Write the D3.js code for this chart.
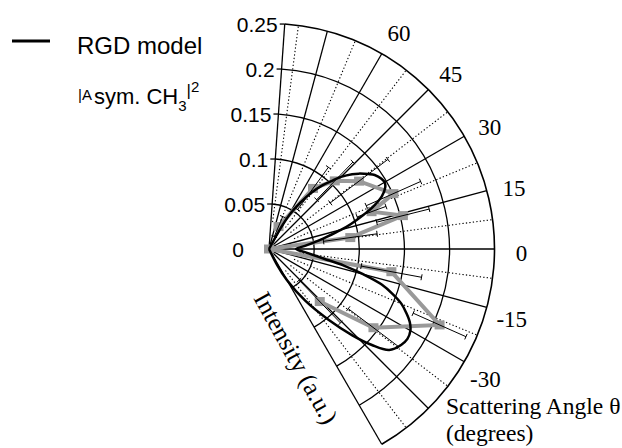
<!DOCTYPE html>
<html><head><meta charset="utf-8">
<script src="https://cdn.jsdelivr.net/npm/d3@7"></script>
<style>body{margin:0;background:#fff} svg{display:block}</style>
</head><body>
<svg id="chart" width="622" height="448"></svg>
<script>
// ---------- data ----------
const radialTicks = [0, 0.05, 0.1, 0.15, 0.2, 0.25];
const radialTickLabels = ["0", "0.05", "0.1", "0.15", "0.2", "0.25"];
const angleTicks = [60, 45, 30, 15, 0, -15, -30];
const angleTickLabels = ["60", "45", "30", "15", "0", "-15", "-30"];
const solidSpokes = [-45, -30, -15, 0, 15, 30, 45, 60, 75];
const dottedSpokes = [-52.5, -37.5, -22.5, -7.5, 7.5, 22.5, 37.5, 52.5, 67.5, 82.5];
const angleRange = [-60, 86];

// RGD model (degrees, intensity)
const modelAngles = [63, 61, 59, 56, 53, 50, 47, 45, 42, 40, 37, 35, 32, 30, 28, 25, 22, 20, 17, 15, 12, 10, 5, 0,
  -5, -10, -12.5, -15, -17.5, -20, -22.5, -25, -27.5, -30, -33, -36, -40, -43, -46, -50, -55, -60, -63, -65];
const modelValues = [0, 0.025, 0.045, 0.062, 0.078, 0.092, 0.104, 0.113, 0.124, 0.130, 0.138, 0.143, 0.147, 0.148, 0.146, 0.138, 0.124, 0.112, 0.095, 0.083, 0.066, 0.057, 0.040, 0.030,
  0.040, 0.062, 0.085, 0.108, 0.131, 0.146, 0.159, 0.168, 0.176, 0.181, 0.183, 0.181, 0.174, 0.156, 0.133, 0.102, 0.070, 0.040, 0.020, 0];

// |A sym. CH3|^2 measured
const dataAngles = [67, 54, 46, 37, 24, 20, 14, 8, 0, -10.5, -24, -37, -46];
const dataValues = [0.027, 0.083, 0.105, 0.125, 0.151, 0.121, 0.153, 0.091, 0, 0.138, 0.207, 0.145, 0.081];
const dataErrors = [0.012, 0.029, 0.029, 0.040, 0.033, 0.017, 0.030, 0.030, 0, 0.034, 0.032, 0.035, 0.033];

// ---------- drawing ----------
const svg = d3.select("#chart");
const cx = 269, cy = 249, R = 225.5;
const rScale = d3.scaleLinear().domain([0, 0.25]).range([0, R]);
const rad = d => d * Math.PI / 180;
const px = (deg, v) => cx + rScale(v) * Math.cos(rad(deg));
const py = (deg, v) => cy - rScale(v) * Math.sin(rad(deg));
const sans = "'Liberation Sans', Arial, Helvetica, sans-serif";
const serif = "'Liberation Serif', 'Times New Roman', Times, serif";

const g = svg.append("g");

// circles (arcs)
radialTicks.slice(1).forEach(v => {
  const p = d3.path();
  p.arc(cx, cy, rScale(v), rad(-angleRange[1]), rad(-angleRange[0]), false);
  g.append("path").attr("d", p.toString()).attr("fill", "none")
    .attr("stroke", "#000").attr("stroke-width", v === 0.25 ? 1.6 : 1.3);
});

// solid spokes + edges
solidSpokes.concat(angleRange).forEach(a => {
  g.append("line").attr("x1", cx).attr("y1", cy)
    .attr("x2", px(a, 0.25)).attr("y2", py(a, 0.25))
    .attr("stroke", "#000").attr("stroke-width", 1.3);
});
// dotted spokes
dottedSpokes.forEach(a => {
  g.append("line").attr("x1", px(a, 0.03)).attr("y1", py(a, 0.03))
    .attr("x2", px(a, 0.25)).attr("y2", py(a, 0.25))
    .attr("stroke", "#000").attr("stroke-width", 1.1).attr("stroke-dasharray", "1.3,2.2");
});

// radial axis ticks and labels
radialTicks.forEach((v, i) => {
  const x = px(angleRange[1], v), y = py(angleRange[1], v);
  if (v > 0) g.append("line").attr("x1", x - 5).attr("y1", y).attr("x2", x).attr("y2", y)
    .attr("stroke", "#000").attr("stroke-width", 1.3);
  g.append("text").attr("x", v === 0 ? x - 25 : x - 7).attr("y", y)
    .attr("dy", "0.36em").attr("text-anchor", "end")
    .attr("font-family", sans).attr("font-size", 21).text(radialTickLabels[i]);
});

// angle labels
angleTicks.forEach((a, i) => {
  g.append("text").attr("x", px(a - 1, 0.25) + 27 * Math.cos(rad(a - 1)))
    .attr("y", py(a - 1, 0.25) - 27 * Math.sin(rad(a - 1)))
    .attr("dy", "0.35em").attr("text-anchor", "middle")
    .attr("font-family", serif).attr("font-size", 23).text(angleTickLabels[i]);
});

// data line (grey)
const data = dataAngles.map((a, i) => ({a, v: dataValues[i], e: dataErrors[i]}));
const radial = d3.lineRadial().angle(d => rad(90 - d.a)).radius(d => rScale(d.v));
g.append("path").attr("transform", `translate(${cx},${cy})`)
  .attr("d", radial.curve(d3.curveLinear)(data))
  .attr("fill", "none").attr("stroke", "#999").attr("stroke-width", 4);
// squares
g.selectAll("rect.pt").data(data).join("rect").attr("class", "pt")
  .attr("x", d => px(d.a, d.v) - 5).attr("y", d => py(d.a, d.v) - 4.5)
  .attr("width", 10).attr("height", 9).attr("fill", "#999");
// error bars
data.filter(d => d.e > 0).forEach(d => {
  const a = rad(d.a), ux = Math.cos(a), uy = -Math.sin(a);
  const nx = -uy, ny = ux;
  const x1 = px(d.a, d.v - d.e), y1 = py(d.a, d.v - d.e);
  const x2 = px(d.a, d.v + d.e), y2 = py(d.a, d.v + d.e);
  g.append("line").attr("x1", x1).attr("y1", y1).attr("x2", x2).attr("y2", y2)
    .attr("stroke", "#000").attr("stroke-width", 1);
  [[x1, y1], [x2, y2]].forEach(([x, y]) => {
    g.append("line").attr("x1", x - 3 * nx).attr("y1", y - 3 * ny)
      .attr("x2", x + 3 * nx).attr("y2", y + 3 * ny)
      .attr("stroke", "#000").attr("stroke-width", 1);
  });
});

// model curve
const model = modelAngles.map((a, i) => ({a, v: modelValues[i]}));
g.append("path").attr("transform", `translate(${cx},${cy})`)
  .attr("d", d3.lineRadial().angle(d => rad(90 - d.a)).radius(d => rScale(d.v)).curve(d3.curveCatmullRom)(model))
  .attr("fill", "none").attr("stroke", "#000").attr("stroke-width", 2.5);

// axis titles
g.append("text").attr("transform", "translate(253,298) rotate(61)")
  .attr("font-family", serif).attr("font-size", 25).text("Intensity (a.u.)");
g.append("text").attr("x", 446).attr("y", 414)
  .attr("font-family", serif).attr("font-size", 23.5).text("Scattering Angle θ");
g.append("text").attr("x", 446).attr("y", 441)
  .attr("font-family", serif).attr("font-size", 23.5).text("(degrees)");

// legend
g.append("line").attr("x1", 12).attr("x2", 50).attr("y1", 41).attr("y2", 41)
  .attr("stroke", "#000").attr("stroke-width", 3);
g.append("text").attr("x", 77).attr("y", 54).attr("font-family", sans).attr("font-size", 24).text("RGD model");
const t2 = g.append("text").attr("x", 78).attr("y", 104).attr("font-family", sans).attr("font-size", 22);
t2.append("tspan").attr("font-size", 15).attr("dy", -4).text("|A");
t2.append("tspan").attr("dy", 4).attr("dx", 2).text("sym. CH");
t2.append("tspan").attr("font-size", 15).attr("dy", 7).text("3");
t2.append("tspan").attr("font-size", 17).attr("dy", -15).text("|");
t2.append("tspan").attr("font-size", 15).attr("dy", -4).text("2");
</script>
</body></html>
